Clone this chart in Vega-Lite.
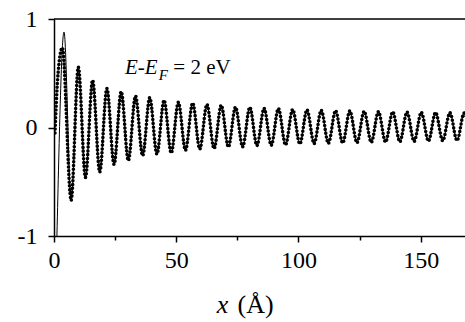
{
  "$schema": "https://vega.github.io/schema/vega-lite/v6.json",
  "width": 411,
  "height": 217,
  "autosize": {"type": "none"},
  "padding": {"left": 54, "top": 19, "right": 0, "bottom": 86},
  "background": "white",
  "config": {
    "view": {"stroke": null},
    "font": "'Liberation Serif', 'DejaVu Serif', serif",
    "text": {"font": "'Liberation Serif', 'DejaVu Serif', serif"},
    "axis": {"grid": false, "domainColor": "black", "domainWidth": 1.5, "tickColor": "black", "tickWidth": 1.5, "labelColor": "black", "titleColor": "black", "labelFont": "'Liberation Serif', 'DejaVu Serif', serif", "titleFont": "'Liberation Serif', 'DejaVu Serif', serif"}
  },
  "datasets": {
    "curve": [
      {"x": 0.4, "y": -0.05, "s": "d"},
      {"x": 1.5, "y": 0.45, "s": "d"},
      {"x": 3.4, "y": 0.735, "s": "d"},
      {"x": 1.2, "y": -1.0, "s": "l"},
      {"x": 4.1, "y": 0.88, "s": "l"},
      {"x": 7.02, "y": -0.67, "s": "b"},
      {"x": 9.95, "y": 0.555, "s": "b"},
      {"x": 12.87, "y": -0.46, "s": "b"},
      {"x": 15.79, "y": 0.435, "s": "b"},
      {"x": 18.71, "y": -0.41, "s": "b"},
      {"x": 21.64, "y": 0.36, "s": "b"},
      {"x": 24.56, "y": -0.34, "s": "b"},
      {"x": 27.48, "y": 0.33, "s": "b"},
      {"x": 30.40, "y": -0.305, "s": "b"},
      {"x": 33.33, "y": 0.29, "s": "b"},
      {"x": 36.25, "y": -0.26, "s": "b"},
      {"x": 39.17, "y": 0.275, "s": "b"},
      {"x": 42.09, "y": -0.245, "s": "b"},
      {"x": 45.02, "y": 0.25, "s": "b"},
      {"x": 47.94, "y": -0.235, "s": "b"},
      {"x": 50.86, "y": 0.232, "s": "b"},
      {"x": 53.78, "y": -0.21, "s": "b"},
      {"x": 56.71, "y": 0.226, "s": "b"},
      {"x": 59.63, "y": -0.198, "s": "b"},
      {"x": 62.55, "y": 0.212, "s": "b"},
      {"x": 65.47, "y": -0.195, "s": "b"},
      {"x": 68.40, "y": 0.205, "s": "b"},
      {"x": 71.32, "y": -0.18, "s": "b"},
      {"x": 74.24, "y": 0.188, "s": "b"},
      {"x": 77.16, "y": -0.178, "s": "b"},
      {"x": 80.09, "y": 0.186, "s": "b"},
      {"x": 83.01, "y": -0.166, "s": "b"},
      {"x": 85.93, "y": 0.176, "s": "b"},
      {"x": 88.85, "y": -0.164, "s": "b"},
      {"x": 91.78, "y": 0.174, "s": "b"},
      {"x": 94.70, "y": -0.16, "s": "b"},
      {"x": 97.62, "y": 0.166, "s": "b"},
      {"x": 100.54, "y": -0.152, "s": "b"},
      {"x": 103.47, "y": 0.162, "s": "b"},
      {"x": 106.39, "y": -0.148, "s": "b"},
      {"x": 109.31, "y": 0.158, "s": "b"},
      {"x": 112.23, "y": -0.146, "s": "b"},
      {"x": 115.16, "y": 0.155, "s": "b"},
      {"x": 118.08, "y": -0.143, "s": "b"},
      {"x": 121.00, "y": 0.152, "s": "b"},
      {"x": 123.92, "y": -0.14, "s": "b"},
      {"x": 126.85, "y": 0.149, "s": "b"},
      {"x": 129.77, "y": -0.137, "s": "b"},
      {"x": 132.69, "y": 0.146, "s": "b"},
      {"x": 135.61, "y": -0.134, "s": "b"},
      {"x": 138.54, "y": 0.144, "s": "b"},
      {"x": 141.46, "y": -0.131, "s": "b"},
      {"x": 144.38, "y": 0.142, "s": "b"},
      {"x": 147.30, "y": -0.128, "s": "b"},
      {"x": 150.23, "y": 0.14, "s": "b"},
      {"x": 153.15, "y": -0.125, "s": "b"},
      {"x": 156.07, "y": 0.138, "s": "b"},
      {"x": 158.99, "y": -0.122, "s": "b"},
      {"x": 161.92, "y": 0.136, "s": "b"},
      {"x": 164.84, "y": -0.12, "s": "b"},
      {"x": 167.76, "y": 0.134, "s": "b"},
      {"x": 170.68, "y": -0.118, "s": "b"}
    ]
  },
  "layer": [
    {
      "data": {"name": "curve"},
      "transform": [{"filter": "datum.s != 'l'"}],
      "mark": {"type": "line", "interpolate": "monotone", "color": "black", "strokeWidth": 3.6, "strokeCap": "round", "strokeDash": [0, 3.8], "clip": true},
      "encoding": {
        "x": {"field": "x", "type": "quantitative", "scale": {"domain": [0, 168.1], "nice": false, "zero": false},
          "axis": {"values": [0, 25, 50, 75, 100, 125, 150], "labelExpr": "datum.value % 50 == 0 ? format(datum.value, 'd') : ''", "tickSize": {"condition": {"test": "datum.value % 50 != 0", "value": 4}, "value": 6}, "labelFontSize": 24, "labelPadding": 6, "labelFlush": false, "labelOverlap": false, "title": "(Å)", "titleFontSize": 26, "titleFontWeight": "normal", "titleAlign": "left", "titleBaseline": "alphabetic", "titleX": 183, "titleY": 76}},
        "y": {"field": "y", "type": "quantitative", "scale": {"domain": [-1, 1], "nice": false},
          "axis": {"values": [-1, 0, 1], "labelExpr": "datum.value == -1 ? '-1' : (datum.value == 0 ? '0' : '1')", "tickSize": 6, "labelFontSize": 24, "labelPadding": 11, "labelFlush": false, "labelOverlap": false, "title": null}}
      }
    },
    {
      "data": {"name": "curve"},
      "transform": [{"filter": "datum.s != 'd'"}],
      "mark": {"type": "line", "interpolate": "monotone", "color": "black", "strokeWidth": 1, "clip": true},
      "encoding": {
        "x": {"field": "x", "type": "quantitative", "title": "(Å)"},
        "y": {"field": "y", "type": "quantitative", "title": null}
      }
    },
    {
      "data": {"values": [{}]},
      "mark": {"type": "rule", "color": "black", "strokeWidth": 1.5},
      "encoding": {
        "y": {"datum": 1, "type": "quantitative", "title": null}
      }
    },
    {
      "data": {"values": [{}]},
      "mark": {"type": "text", "text": "E-E", "fontStyle": "italic", "fontSize": 21, "align": "left", "baseline": "alphabetic", "color": "black"},
      "encoding": {
        "x": {"datum": 29.0, "type": "quantitative", "title": "(Å)"},
        "y": {"datum": 0.496, "type": "quantitative", "title": null}
      }
    },
    {
      "data": {"values": [{}]},
      "mark": {"type": "text", "text": "F", "fontStyle": "italic", "fontSize": 15, "align": "left", "baseline": "alphabetic", "color": "black"},
      "encoding": {
        "x": {"datum": 42.8, "type": "quantitative", "title": "(Å)"},
        "y": {"datum": 0.44, "type": "quantitative", "title": null}
      }
    },
    {
      "data": {"values": [{}]},
      "mark": {"type": "text", "text": "= 2 eV", "fontSize": 21, "align": "left", "baseline": "alphabetic", "color": "black"},
      "encoding": {
        "x": {"datum": 48.8, "type": "quantitative", "title": "(Å)"},
        "y": {"datum": 0.496, "type": "quantitative", "title": null}
      }
    },
    {
      "data": {"values": [{}]},
      "mark": {"type": "text", "text": "x", "fontStyle": "italic", "fontSize": 26, "align": "left", "baseline": "alphabetic", "color": "black", "clip": false},
      "encoding": {
        "x": {"datum": 66.6, "type": "quantitative", "title": "(Å)"},
        "y": {"datum": -1.706, "type": "quantitative", "title": null}
      }
    }
  ]
}
